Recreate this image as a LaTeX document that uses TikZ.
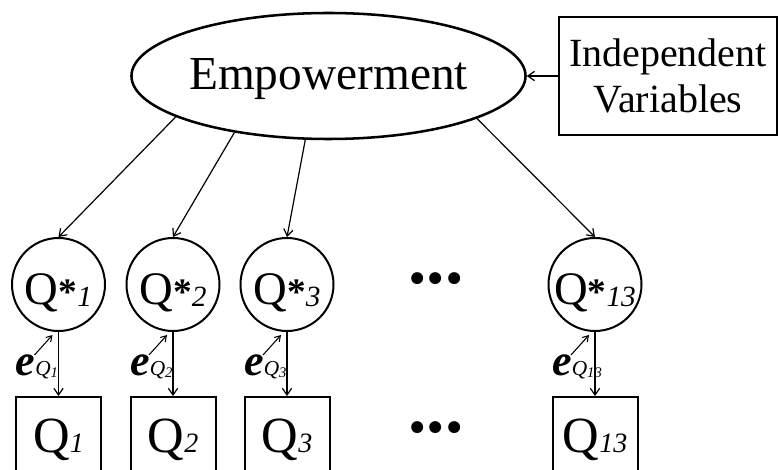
\documentclass[tikz,border=0pt]{standalone}
\usepackage{fontspec}
\setmainfont{Liberation Serif}
\usetikzlibrary{arrows.meta,shapes.geometric}
\newcommand{\fsz}[1]{\fontsize{#1}{#1}\selectfont}
\begin{document}
\begin{tikzpicture}[x=0.75pt,y=-0.75pt,
  conn/.style={line width=0.9pt,-{Straight Barb[length=5pt,width=7pt]}},
  errarrow/.style={line width=0.8pt,-{Straight Barb[length=4pt,width=5pt]}},
  latent/.style={circle,draw,line width=1.5pt,minimum size=69.75pt,inner sep=0pt,text height=30.75pt,text depth=0pt},
  obs/.style={rectangle,draw,line width=1.5pt,minimum width=63.75pt,inner sep=0pt,anchor=base,text height=41.25pt,text depth=45pt},
  errlabel/.style={inner sep=0pt,anchor=base west},
  dotsnode/.style={inner sep=0pt,anchor=base,font=\fsz{55pt}\bfseries}
]
\useasboundingbox (0,0) rectangle (778,470);
\clip (0,0) rectangle (778,470);

% top
\node[ellipse,draw,line width=1.9pt,minimum width=273pt,minimum height=94.5pt,inner sep=0pt,
      text height=21pt,text depth=0pt,font=\fsz{35.5pt}] (emp) at (328.5,76) {Empowerment};
\node[rectangle,draw,line width=1.6pt,minimum width=163.5pt,minimum height=88.5pt,inner sep=0pt,
      align=center,font=\fontsize{30pt}{35pt}\selectfont] (ind) at (668,76) {Independent\\Variables};

% latent circles
\node[latent] (c1) at (58.5,284.5) {\fsz{35pt}Q{\fsz{28pt}\textbf{*}}\raisebox{-1.5pt}{\fsz{22pt}\itshape 1}};
\node[latent] (c2) at (173,284.5) {\fsz{35pt}Q{\fsz{28pt}\textbf{*}}\raisebox{-1.5pt}{\fsz{22pt}\itshape 2}};
\node[latent] (c3) at (287,284.5) {\fsz{35pt}Q{\fsz{28pt}\textbf{*}}\raisebox{-1.5pt}{\fsz{22pt}\itshape 3}};
\node[latent] (c13) at (595,284.5) {\fsz{35pt}Q{\fsz{28pt}\textbf{*}}\raisebox{-1.5pt}{\fsz{22pt}\itshape 13}};

% observed boxes
\node[obs] (q1) at (58.5,452) {\fsz{38pt}Q{\fsz{21pt}\itshape 1}};
\node[obs] (q2) at (173,452) {\fsz{38pt}Q{\fsz{21pt}\itshape 2}};
\node[obs] (q3) at (287,452) {\fsz{38pt}Q{\fsz{21pt}\itshape 3}};
\node[obs] (q13) at (595,452) {\fsz{38pt}Q{\fsz{21pt}\itshape 13}};

% dots
\node[dotsnode] (d1) at (436,284) {...};
\node[dotsnode] (d2) at (436,432) {...};

% connectors
\draw[conn] (ind.west) -- (emp.east);
\draw[conn] (emp.195.2) -- (c1.north);
\draw[conn] (emp.211.4) -- (c2.north);
\draw[conn] (emp.250.7) -- (c3.north);
\draw[conn] (emp.344.6) -- (c13.north);
\draw[conn] (c1.south) -- (q1.north);
\draw[conn] (c2.south) -- (q2.north);
\draw[conn] (c3.south) -- (q3.north);
\draw[conn] (c13.south) -- (q13.north);

% error terms
\foreach \n/\x/\s in {1/58.5/1, 2/173/2, 3/287/3, 13/595/13}{
  \node[errlabel] (e\n) at (\x-43,375) {\fsz{33pt}\bfseries\itshape e\raisebox{-0.5pt}{\fsz{16pt}\mdseries Q\raisebox{-1.5pt}{\fsz{11pt}\s}}};
  \coordinate (ea\n) at (\x-24,355);
  \coordinate (eb\n) at (\x-6,335);
  \draw[errarrow] (ea\n) -- (eb\n);
}
\end{tikzpicture}
\end{document}
